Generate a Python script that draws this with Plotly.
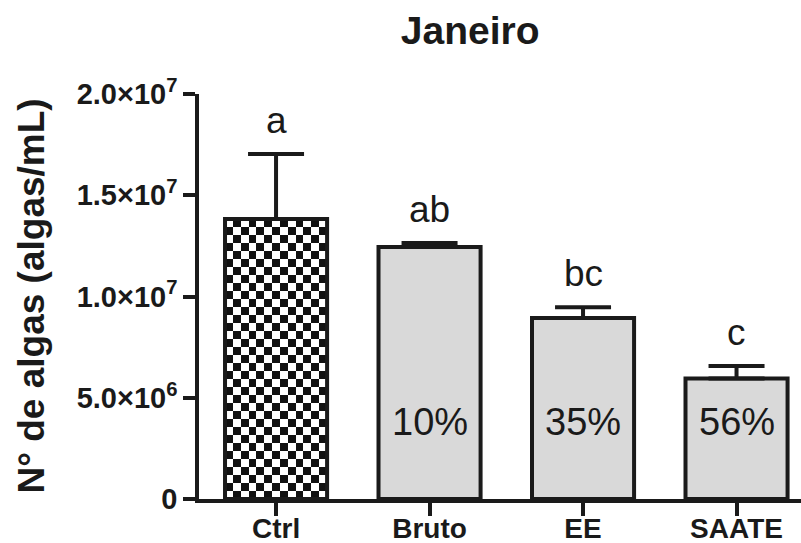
import plotly.graph_objects as go

categories = ["Ctrl", "Bruto", "EE", "SAATE"]
means = [1.383e7, 1.244e7, 0.894e7, 0.595e7]
errors = [0.321e7, 0.02e7, 0.053e7, 0.062e7]
sig_letters = ["a", "ab", "bc", "c"]
reduction = ["", "10%", "35%", "56%"]
ytick_vals = [0, 5e6, 1e7, 1.5e7, 2e7]
ytick_text = ["0", "5.0×10<sup>6</sup>", "1.0×10<sup>7</sup>", "1.5×10<sup>7</sup>", "2.0×10<sup>7</sup>"]

FONT = "Liberation Sans, Arial, sans-serif"
INK = "#1a1a1a"
GREY = "#d9d9d9"
BAR_W = 0.665

xs = list(range(len(categories)))

fig = go.Figure()

# checkerboard fill of the control bar (heatmap under the bar outline)
ncols, nrows = 13, 35
dx = BAR_W / ncols
dy = means[0] / nrows
z = [[(r + c) % 2 for c in range(ncols)] for r in range(nrows)]
fig.add_trace(go.Heatmap(
    z=z, x0=xs[0] - BAR_W / 2 + dx / 2, dx=dx, y0=dy / 2, dy=dy,
    colorscale=[[0, "white"], [1, "#111111"]], showscale=False,
    hoverinfo="skip", zsmooth=False,
))

fills = ["rgba(0,0,0,0)"] + [GREY] * (len(categories) - 1)
fig.add_trace(go.Bar(
    x=xs, y=means, width=BAR_W,
    marker=dict(color=fills, line=dict(color=INK, width=4)),
    error_y=dict(type="data", symmetric=False, array=errors,
                 arrayminus=[0] * len(errors), color=INK, thickness=4, width=28),
    showlegend=False,
))

for x, m, e, s in zip(xs, means, errors, sig_letters):
    fig.add_annotation(x=x, y=m + e, text=s, showarrow=False, yanchor="bottom",
                       yshift=11, font=dict(family=FONT, size=37, color=INK))

for x, r in zip(xs, reduction):
    if r:
        fig.add_annotation(x=x, y=3.8e6, text=r, showarrow=False, yanchor="middle",
                           font=dict(family=FONT, size=38, color=INK))

fig.add_annotation(xref="paper", yref="paper", x=-0.279, y=0.5, textangle=-90,
                   text="<b>N° de algas (algas/mL)</b>", showarrow=False,
                   xanchor="center", yanchor="middle",
                   font=dict(family=FONT, size=37, color=INK))

fig.update_layout(
    width=801, height=543,
    margin=dict(l=199, r=0, t=94, b=44, autoexpand=False),
    paper_bgcolor="white", plot_bgcolor="white",
    title=dict(text="<b>Janeiro</b>", x=0.587, xanchor="center", xref="container",
               y=1 - 30 / 543, yanchor="middle", yref="container",
               font=dict(family=FONT, size=39, color=INK)),
    xaxis=dict(range=[-0.502, 3.42], tickvals=xs, automargin=False,
               ticktext=["<b>%s</b>" % c for c in categories],
               showline=True, linecolor=INK, linewidth=3.5,
               ticks="outside", ticklen=13, tickwidth=3.5, tickcolor=INK,
               ticklabelstandoff=-11,
               showgrid=False, zeroline=False,
               tickfont=dict(family=FONT, size=28, color=INK)),
    yaxis=dict(range=[0, 2e7], tickvals=ytick_vals, automargin=False,
               ticktext=["<b>%s</b>" % t for t in ytick_text],
               showline=True, linecolor=INK, linewidth=3.5,
               ticks="outside", ticklen=12, tickwidth=3.5, tickcolor=INK,
               showgrid=False, zeroline=False,
               tickfont=dict(family=FONT, size=29, color=INK)),
)

fig.write_html("out.html")
